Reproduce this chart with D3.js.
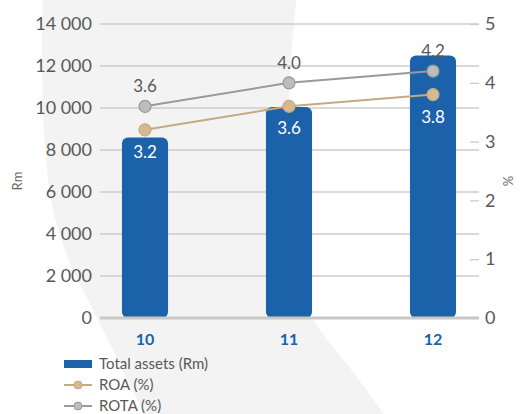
<!DOCTYPE html>
<html>
<head>
<meta charset="utf-8">
<script src="https://cdn.jsdelivr.net/npm/d3@7"></script>
<style>
  body { margin: 0; background: #fff; }
  svg { display: block; font-family: Lato, "Open Sans", sans-serif; }
</style>
</head>
<body>
<svg id="chart" width="525" height="414"></svg>
<script>
// data
var years = ["10", "11", "12"];
var totalAssets = [8600, 10050, 12500];
var roa = [3.2, 3.6, 3.8];
var rota = [3.6, 4.0, 4.2];
var leftTicks = [0, 2000, 4000, 6000, 8000, 10000, 12000, 14000];
var rightTicks = [0, 1, 2, 3, 4, 5];
var legendLabels = ["Total assets (Rm)", "ROA (%)", "ROTA (%)"];

var blue = "#1c62aa", tan = "#c6a883", grey = "#9a9a9a";

var svg = d3.select("#chart");

// decorative background swoosh (left edge top->bottom, right edge bottom->top)
var swooshLeft = [[43, -5], [42, 60], [44, 130], [52, 205], [68, 258], [88, 300], [112, 348], [135, 395], [148, 425]];
var swooshRight = [[392, 425], [350, 368], [320, 330], [301, 295], [291, 235], [288, 150], [291, 60], [297, -5]];
var curve = d3.line().curve(d3.curveCatmullRom);
svg.append("path")
    .attr("d", curve(swooshLeft) + "L" + curve(swooshRight).slice(1) + "Z")
    .style("fill", "#f2f3f2");

// scales
var x = d3.scaleBand().domain(years).range([73, 505]).paddingInner(0.68).paddingOuter(0.34);
var yLeft = d3.scaleLinear().domain([0, 14000]).range([318, 24]);
var yRight = d3.scaleLinear().domain([0, 5]).range([318, 24]);

var spaceFmt = d3.formatLocale({ decimal: ".", thousands: " ", grouping: [3], currency: ["", ""] }).format(",");

// gridlines
svg.append("g").selectAll("line")
    .data(leftTicks.filter(function (d) { return d > 0; }))
    .enter().append("line")
    .attr("x1", 100).attr("x2", 479)
    .attr("y1", function (d) { return yLeft(d); })
    .attr("y2", function (d) { return yLeft(d); })
    .style("stroke", "#cccccc").style("stroke-width", 1.3);

// left axis
var gl = svg.append("g")
    .attr("transform", "translate(100,0)")
    .call(d3.axisLeft(yLeft).tickValues(leftTicks).tickSize(0).tickPadding(8).tickFormat(spaceFmt));
gl.select(".domain").remove();
gl.selectAll("text").style("font-size", "18px").style("fill", "#595959").style("font-family", "Lato, sans-serif");

// right axis
var gr = svg.append("g")
    .attr("transform", "translate(470,0)")
    .call(d3.axisRight(yRight).tickValues(rightTicks).tickSize(9).tickPadding(6).tickFormat(d3.format("d")));
gr.select(".domain").remove();
gr.selectAll("line").style("stroke", "#cccccc").style("stroke-width", 1.3);
gr.selectAll("text").style("font-size", "18px").style("fill", "#595959").style("font-family", "Lato, sans-serif");

// axis titles
svg.append("text")
    .attr("transform", "translate(22,181) rotate(-90)")
    .attr("text-anchor", "middle")
    .style("font-size", "13px").style("fill", "#666")
    .text("Rm");
svg.append("text")
    .attr("transform", "translate(513,181) rotate(-90)")
    .attr("text-anchor", "middle")
    .style("font-size", "13px").style("fill", "#666")
    .text("%");

// bars
svg.append("g").selectAll("rect")
    .data(totalAssets)
    .enter().append("rect")
    .attr("x", function (d, i) { return x(years[i]); })
    .attr("y", function (d) { return yLeft(d); })
    .attr("width", x.bandwidth())
    .attr("height", function (d) { return yLeft(0) - yLeft(d); })
    .attr("rx", 6)
    .style("fill", blue);

// baseline
svg.append("line")
    .attr("x1", 100).attr("x2", 479)
    .attr("y1", yLeft(0)).attr("y2", yLeft(0))
    .style("stroke", "#c8c8c8").style("stroke-width", 3);

// x labels
svg.append("g").selectAll("text")
    .data(years)
    .enter().append("text")
    .attr("x", function (d) { return x(d) + x.bandwidth() / 2; })
    .attr("y", 345)
    .attr("text-anchor", "middle")
    .style("font-size", "16px").style("font-weight", "bold").style("fill", blue)
    .text(function (d) { return d; });

// lines
var cx = function (d, i) { return x(years[i]) + x.bandwidth() / 2; };
var line = d3.line().x(cx).y(function (d) { return yRight(d); });

svg.append("path").datum(rota).attr("d", line)
    .style("fill", "none").style("stroke", grey).style("stroke-width", 2);
svg.append("path").datum(roa).attr("d", line)
    .style("fill", "none").style("stroke", tan).style("stroke-width", 2);

svg.append("g").selectAll("circle")
    .data(rota).enter().append("circle")
    .attr("cx", cx).attr("cy", function (d) { return yRight(d); }).attr("r", 6)
    .style("fill", "#bdbdbd").style("stroke", grey).style("stroke-width", 1.2);
svg.append("g").selectAll("circle")
    .data(roa).enter().append("circle")
    .attr("cx", cx).attr("cy", function (d) { return yRight(d); }).attr("r", 6)
    .style("fill", "#d5b994").style("stroke", tan).style("stroke-width", 1.2);

// value labels
svg.append("g").selectAll("text")
    .data(rota).enter().append("text")
    .attr("x", cx).attr("y", function (d) { return yRight(d) - 14; })
    .attr("text-anchor", "middle")
    .style("font-size", "17px").style("fill", "#595959")
    .text(function (d) { return d.toFixed(1); });
svg.append("g").selectAll("text")
    .data(roa).enter().append("text")
    .attr("x", cx).attr("y", function (d) { return yRight(d) + 28; })
    .attr("text-anchor", "middle")
    .style("font-size", "17px").style("fill", "#fff")
    .text(function (d) { return d.toFixed(1); });

// legend
var legend = svg.append("g").attr("transform", "translate(64,364)");
legend.append("rect").attr("x", 0).attr("y", -4).attr("width", 28).attr("height", 8).style("fill", blue);
[tan, grey].forEach(function (c, i) {
  var yy = 21 * (i + 1);
  legend.append("line").attr("x1", 0).attr("x2", 28).attr("y1", yy).attr("y2", yy)
      .style("stroke", c).style("stroke-width", 2);
  legend.append("circle").attr("cx", 14).attr("cy", yy).attr("r", 4)
      .style("fill", i == 0 ? "#d5b994" : "#bdbdbd").style("stroke", c);
});
legend.selectAll("text.lbl")
    .data(legendLabels).enter().append("text")
    .attr("class", "lbl")
    .attr("x", 35)
    .attr("y", function (d, i) { return 21 * i; })
    .attr("dy", "0.35em")
    .style("font-size", "15px").style("fill", "#595959")
    .text(function (d) { return d; });
</script>
</body>
</html>
